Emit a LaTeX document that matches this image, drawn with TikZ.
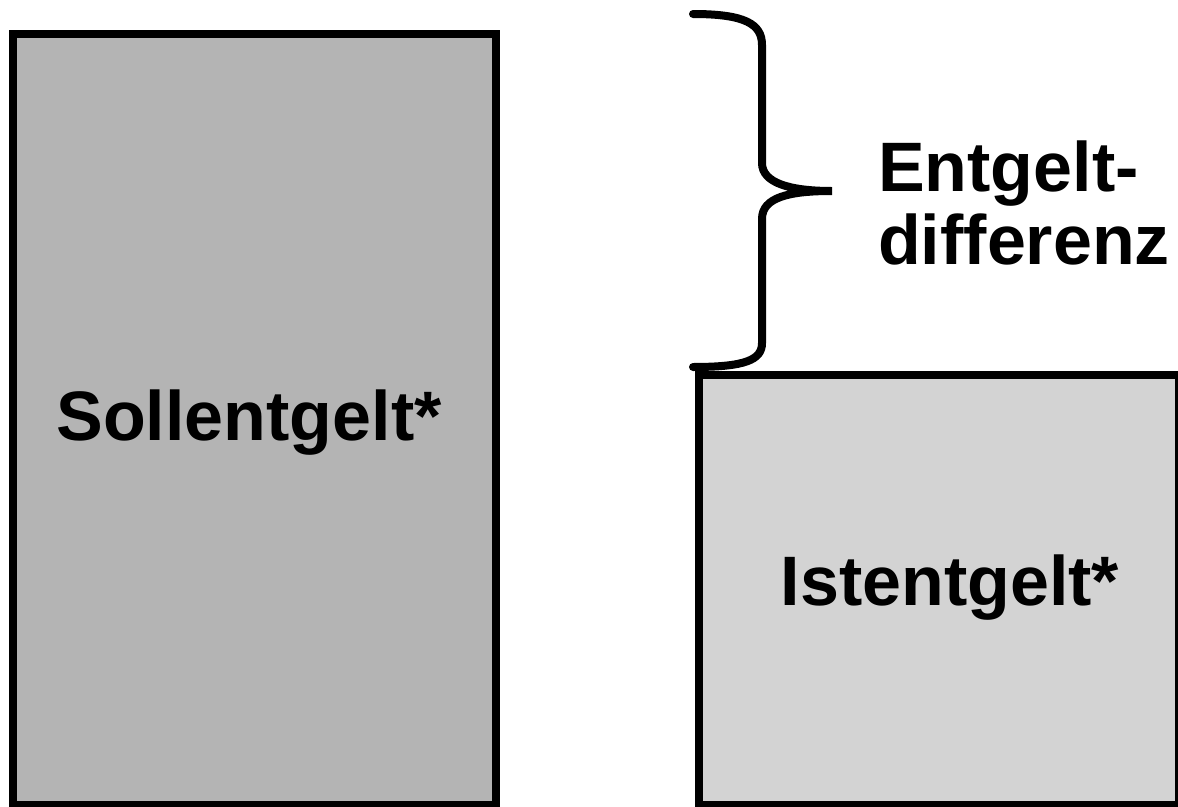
\documentclass[tikz,border=0pt]{standalone}
\usepackage{fontspec}
\setmainfont{Liberation Sans}
\begin{document}
\begin{tikzpicture}[x=1pt,y=-1pt,
  bar/.style={draw=black,line width=8pt,inner sep=0pt,outer sep=0pt,anchor=north west},
  lbl/.style={font=\fontsize{70}{73}\selectfont\bfseries,inner sep=0pt,text=black},
  bracestroke/.style={draw=black,line width=8pt,line cap=round,line join=miter}]
\useasboundingbox (0,0) rectangle (1178,806);
\definecolor{sollgray}{RGB}{180,180,180}
\definecolor{istgray}{RGB}{211,211,211}
% bars
\node[bar,fill=sollgray,minimum width=482.5pt,minimum height=771pt] (soll) at (13,34) {};
\node[bar,fill=istgray,minimum width=480pt,minimum height=430pt] (ist) at (699,375) {};
% labels
\node[lbl,anchor=base] (solltxt) at (249,440) {Sollentgelt*};
\node[lbl,anchor=base] (isttxt) at (950,605) {Istentgelt*};
\node[lbl,anchor=base west,align=left] (difftxt) at (878,264) {Entgelt-\\differenz};
% brace
\coordinate (btop) at (693,14);
\coordinate (btip) at (832,191);
\coordinate (bbot) at (693,367);
\draw[bracestroke] (btop) .. controls (745,14) and (762,24) .. (762,45)
  -- (762,163) .. controls (762,183) and (790,191) .. (btip)
  .. controls (790,191) and (762,197) .. (762,219)
  -- (762,343) .. controls (762,360) and (745,367) .. (bbot);
\end{tikzpicture}
\end{document}
